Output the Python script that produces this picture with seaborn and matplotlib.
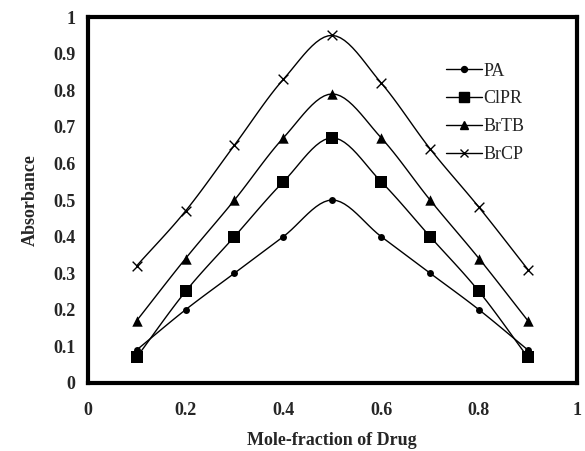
import numpy as np
import pandas as pd
import matplotlib
matplotlib.use("Agg")
import matplotlib.pyplot as plt
import seaborn as sns

# data
mole_fraction = [0.1, 0.2, 0.3, 0.4, 0.5, 0.6, 0.7, 0.8, 0.9]
pa = [0.09, 0.20, 0.30, 0.40, 0.50, 0.40, 0.30, 0.20, 0.09]
clpr = [0.07, 0.25, 0.40, 0.55, 0.67, 0.55, 0.40, 0.25, 0.07]
brtb = [0.17, 0.34, 0.50, 0.67, 0.79, 0.67, 0.50, 0.34, 0.17]
brcp = [0.32, 0.47, 0.65, 0.83, 0.95, 0.82, 0.64, 0.48, 0.31]
series_names = ["PA", "ClPR", "BrTB", "BrCP"]
x_ticks = [0, 0.2, 0.4, 0.6, 0.8, 1]
x_tick_labels = ["0", "0.2", "0.4", "0.6", "0.8", "1"]
y_ticks = [0, 0.1, 0.2, 0.3, 0.4, 0.5, 0.6, 0.7, 0.8, 0.9, 1]
y_tick_labels = ["0", "0.1", "0.2", "0.3", "0.4", "0.5", "0.6", "0.7", "0.8", "0.9", "1"]

df = pd.DataFrame({"x": mole_fraction, "PA": pa, "ClPR": clpr,
                   "BrTB": brtb, "BrCP": brcp})
long_df = df.melt(id_vars="x", var_name="series", value_name="y")

sns.set_style("white")
plt.rcParams["font.family"] = ["Liberation Serif", "DejaVu Serif"]

markers = {"PA": "o", "ClPR": "s", "BrTB": "^", "BrCP": "x"}
msizes = {"PA": 5, "ClPR": 8.5, "BrTB": 7.5, "BrCP": 7}


def smooth(x, y, n=12):
    # Catmull-Rom style smoothing like Excel's "smoothed line"
    x = np.asarray(x, float)
    y = np.asarray(y, float)
    px = np.concatenate([[2 * x[0] - x[1]], x, [2 * x[-1] - x[-2]]])
    py = np.concatenate([[2 * y[0] - y[1]], y, [2 * y[-1] - y[-2]]])
    xs, ys = [], []
    for i in range(1, len(px) - 2):
        t = np.linspace(0, 1, n, endpoint=False)
        for arr, out in ((px, xs), (py, ys)):
            p0, p1, p2, p3 = arr[i - 1], arr[i], arr[i + 1], arr[i + 2]
            out.extend(0.5 * ((2 * p1) + (-p0 + p2) * t
                              + (2 * p0 - 5 * p1 + 4 * p2 - p3) * t ** 2
                              + (-p0 + 3 * p1 - 3 * p2 + p3) * t ** 3))
    xs.append(x[-1])
    ys.append(y[-1])
    return np.array(xs), np.array(ys)


fig = plt.figure(figsize=(5.85, 4.51), dpi=100)
ax = fig.add_axes([0.150, 0.151, 0.836, 0.811])

handles = []
for name in series_names:
    sub = long_df[long_df["series"] == name]
    sx, sy = smooth(sub["x"], sub["y"])
    ax.plot(sx, sy, color="black", lw=1.0)
    sns.scatterplot(data=sub, x="x", y="y", ax=ax, marker=markers[name],
                    color="black", s=msizes[name] ** 2,
                    linewidth=1.0 if name == "BrCP" else 0, legend=False, zorder=3)
    h, = ax.plot([], [], color="black", lw=1.0, marker=markers[name],
                 markersize=msizes[name] * 0.85, label=name)
    handles.append(h)

ax.set_xlim(0, 1)
ax.set_ylim(0, 1)
ax.set_xticks(x_ticks)
ax.set_xticklabels(x_tick_labels, fontsize=13, fontweight="bold")
ax.set_yticks(y_ticks)
ax.set_yticklabels(y_tick_labels, fontsize=13, fontweight="bold")
ax.tick_params(axis="x", length=0, pad=14)
ax.tick_params(axis="y", length=0, pad=9)
ax.set_xlabel("Mole-fraction of Drug", fontsize=13, fontweight="bold", labelpad=9)
ax.set_ylabel("Absorbance", fontsize=13, fontweight="bold", labelpad=10)
for sp in ax.spines.values():
    sp.set_visible(True)
    sp.set_linewidth(3)
    sp.set_color("black")

ax.legend(handles=handles, loc="upper left", bbox_to_anchor=(0.70, 0.92),
          frameon=False, fontsize=13, handlelength=2.0, handletextpad=0.05,
          labelspacing=0.6)

fig.savefig("out.png", dpi=100)
